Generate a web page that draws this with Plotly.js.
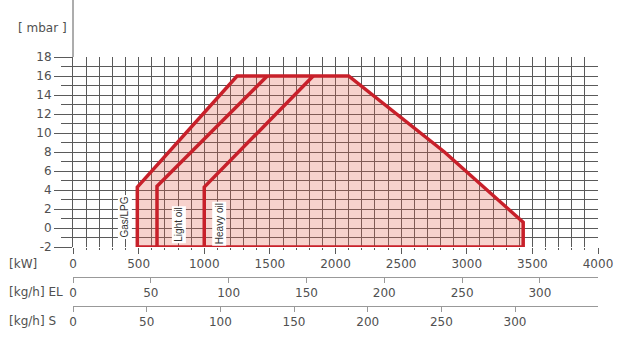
<!DOCTYPE html>
<html>
<head>
<meta charset="utf-8">
<script src="https://cdn.plot.ly/plotly-3.0.1.min.js"></script>
<style>html,body{margin:0;padding:0;background:#fff;}#chart{width:632px;height:340px;}</style>
</head>
<body>
<div id="chart"></div>
<script>
// Working field outlines (kW vs mbar)
const gasKW   = [490, 490, 1250, 2100, 2830, 3430, 3430, 490];
const gasMbar = [-2, 4.3, 16, 16, 8, 0.6, -2, -2];
const lightKW   = [640, 640, 1480];
const lightMbar = [-2, 4.4, 16];
const heavyKW   = [1000, 1000, 1830];
const heavyMbar = [-2, 4.3, 16];

const labelNames = ['Gas/LPG', 'Light oil', 'Heavy oil'];
const labelKW    = [396, 808, 1112];
const labelMbar  = [1.2, 0.35, 0.5];

const kwTicks = [0, 500, 1000, 1500, 2000, 2500, 3000, 3500, 4000];
const elTicks = [0, 50, 100, 150, 200, 250, 300];
const sTicks  = [0, 50, 100, 150, 200, 250, 300];
const mbarTicks = [-2, 0, 2, 4, 6, 8, 10, 12, 14, 16, 18];

const red = '#c8202a';
const txt = '#505050';
const gridC = '#5a5a5a';
const fam = 'DejaVu Sans, Arial, sans-serif';

const traces = [
  {x: gasKW, y: gasMbar, type: 'scatter', mode: 'lines', fill: 'toself',
   fillcolor: 'rgba(228,95,75,0.28)', line: {color: red, width: 3.5}, hoverinfo: 'skip'},
  {x: lightKW, y: lightMbar, type: 'scatter', mode: 'lines',
   line: {color: red, width: 3.5}, hoverinfo: 'skip'},
  {x: heavyKW, y: heavyMbar, type: 'scatter', mode: 'lines',
   line: {color: red, width: 3.5}, hoverinfo: 'skip'},
  {x: [0, 300], y: [null, null], xaxis: 'x2', yaxis: 'y', type: 'scatter', mode: 'lines', hoverinfo: 'skip'},
  {x: [0, 300], y: [null, null], xaxis: 'x3', yaxis: 'y', type: 'scatter', mode: 'lines', hoverinfo: 'skip'}
];

// layout geometry: plot area top 57px, bottom of paper at 330px
const H = 273;
const py = p => (330 - p) / H;
const px = p => (p - 73) / 525;

const annotations = labelNames.map((t, i) => ({
  x: labelKW[i], y: labelMbar[i], xref: 'x', yref: 'y', text: t, textangle: -90,
  showarrow: false, bgcolor: '#ffffff', borderpad: 1,
  font: {size: 10, color: '#333', family: 'Liberation Sans, Arial, sans-serif'}
}));
annotations.push(
  {xref: 'paper', yref: 'paper', x: px(16), y: py(28), xanchor: 'left', yanchor: 'middle',
   text: '[ mbar ]', showarrow: false, font: {size: 12, color: txt, family: fam}},
  {xref: 'paper', yref: 'paper', x: px(7), y: py(264), xanchor: 'left', yanchor: 'middle',
   text: '[kW]', showarrow: false, font: {size: 12, color: txt, family: fam}},
  {xref: 'paper', yref: 'paper', x: px(7), y: py(292), xanchor: 'left', yanchor: 'middle',
   text: '[kg/h] EL', showarrow: false, font: {size: 12, color: txt, family: fam}},
  {xref: 'paper', yref: 'paper', x: px(7), y: py(321), xanchor: 'left', yanchor: 'middle',
   text: '[kg/h] S', showarrow: false, font: {size: 12, color: txt, family: fam}}
);

const layout = {
  width: 632, height: 340,
  margin: {l: 73, r: 34, t: 57, b: 10, pad: 0},
  paper_bgcolor: '#fff', plot_bgcolor: '#fff',
  showlegend: false,
  font: {family: fam, size: 12, color: txt},
  xaxis: {
    range: [0, 4000], tickvals: kwTicks, ticktext: kwTicks.map(String),
    showgrid: true, gridcolor: gridC, gridwidth: 1,
    ticks: 'outside', ticklen: 6, tickcolor: gridC, zeroline: false,
    showline: false, fixedrange: true,
    minor: {dtick: 100, showgrid: true, gridcolor: gridC, gridwidth: 1, ticks: 'outside', ticklen: 2, tickcolor: gridC},
    tickfont: {size: 12, color: txt, family: fam}
  },
  yaxis: {
    domain: [py(247), 1], range: [-2, 18], tickvals: mbarTicks, ticktext: mbarTicks.map(String),
    showgrid: true, gridcolor: gridC, gridwidth: 1,
    ticks: 'outside', ticklen: 18, tickcolor: gridC, zeroline: false,
    showline: true, linecolor: gridC, linewidth: 1, fixedrange: true,
    minor: {dtick: 1, showgrid: true, gridcolor: gridC, gridwidth: 1, ticks: 'outside', ticklen: 11, tickcolor: gridC},
    tickfont: {size: 12, color: txt, family: fam}
  },
  xaxis2: {
    overlaying: 'x', anchor: 'free', position: py(277), side: 'bottom',
    range: [0, 337.3], tickvals: elTicks, ticktext: elTicks.map(String),
    showgrid: false, zeroline: false, showline: true, linecolor: '#999', linewidth: 1,
    ticks: 'outside', ticklen: 5, tickcolor: '#999', fixedrange: true,
    tickfont: {size: 12, color: txt, family: fam}
  },
  xaxis3: {
    overlaying: 'x', anchor: 'free', position: py(306), side: 'bottom',
    range: [0, 356.3], tickvals: sTicks, ticktext: sTicks.map(String),
    showgrid: false, zeroline: false, showline: true, linecolor: '#999', linewidth: 1,
    ticks: 'outside', ticklen: 5, tickcolor: '#999', fixedrange: true,
    tickfont: {size: 12, color: txt, family: fam}
  },
  shapes: [
    {type: 'line', xref: 'paper', yref: 'paper', x0: 0, x1: 0, y0: 1, y1: py(0),
     line: {color: gridC, width: 1}}
  ],
  annotations: annotations
};

Plotly.newPlot('chart', traces, layout, {displayModeBar: false, staticPlot: true});
</script>
</body>
</html>
